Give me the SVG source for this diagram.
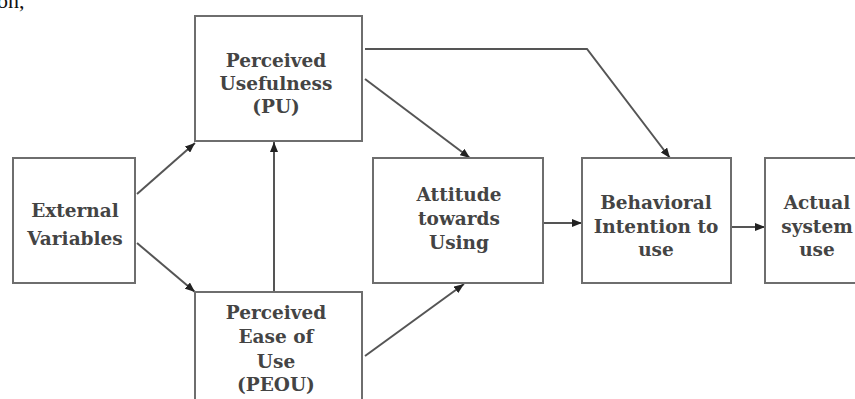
<svg xmlns="http://www.w3.org/2000/svg" width="855" height="399" viewBox="0 0 855 399">
<defs>
<style>
.box{fill:#fff;stroke:#6e6e6e;stroke-width:2}
.lbl{font-family:"DejaVu Serif","Liberation Serif",serif;font-weight:bold;font-size:18.5px;fill:#444;text-anchor:middle}
.con{fill:none;stroke:#555;stroke-width:2}
</style>
<marker id="ah" viewBox="0 0 10 8" refX="10" refY="4" markerWidth="10" markerHeight="8" markerUnits="userSpaceOnUse" orient="auto">
<path d="M0,0 L10,4 L0,8 Z" fill="#222"/>
</marker>
</defs>
<rect width="855" height="399" fill="#fff"/>
<text x="-3" y="8" style="font-family:'Liberation Serif','Times New Roman',serif;font-size:22px;fill:#111">on,</text>
<g id="connectors">
<line class="con" x1="137" y1="194" x2="195" y2="143" marker-end="url(#ah)"/>
<line class="con" x1="137" y1="243" x2="195" y2="292" marker-end="url(#ah)"/>
<line class="con" x1="274" y1="292" x2="274" y2="142" marker-end="url(#ah)"/>
<line class="con" x1="365" y1="79" x2="470" y2="158" marker-end="url(#ah)"/>
<polyline class="con" points="365,49 587,49 670,158" marker-end="url(#ah)"/>
<line class="con" x1="365" y1="356" x2="464" y2="284" marker-end="url(#ah)"/>
<line class="con" x1="544" y1="223" x2="582" y2="223" marker-end="url(#ah)"/>
<line class="con" x1="732" y1="227" x2="765" y2="227" marker-end="url(#ah)"/>
</g>
<g id="external">
<rect class="box" x="13" y="158" width="122" height="125"/>
<text class="lbl" x="75" y="217">External</text>
<text class="lbl" x="75" y="245">Variables</text>
</g>
<g id="pu">
<rect class="box" x="195" y="16" width="167" height="125"/>
<text class="lbl" x="276" y="67">Perceived</text>
<text class="lbl" x="276" y="90">Usefulness</text>
<text class="lbl" x="276" y="113">(PU)</text>
</g>
<g id="peou">
<rect class="box" x="195" y="292" width="167" height="130"/>
<text class="lbl" x="276" y="319">Perceived</text>
<text class="lbl" x="276" y="343">Ease of</text>
<text class="lbl" x="276" y="368">Use</text>
<text class="lbl" x="276" y="391">(PEOU)</text>
</g>
<g id="attitude">
<rect class="box" x="373" y="158" width="170" height="125"/>
<text class="lbl" x="459" y="201">Attitude</text>
<text class="lbl" x="459" y="225">towards</text>
<text class="lbl" x="459" y="249">Using</text>
</g>
<g id="behavioral">
<rect class="box" x="582" y="158" width="149" height="125"/>
<text class="lbl" x="656" y="209">Behavioral</text>
<text class="lbl" x="656" y="233">Intention to</text>
<text class="lbl" x="656" y="256">use</text>
</g>
<g id="actual">
<rect class="box" x="765" y="158" width="100" height="125"/>
<text class="lbl" x="817" y="209">Actual</text>
<text class="lbl" x="817" y="233">system</text>
<text class="lbl" x="817" y="256">use</text>
</g>
</svg>
